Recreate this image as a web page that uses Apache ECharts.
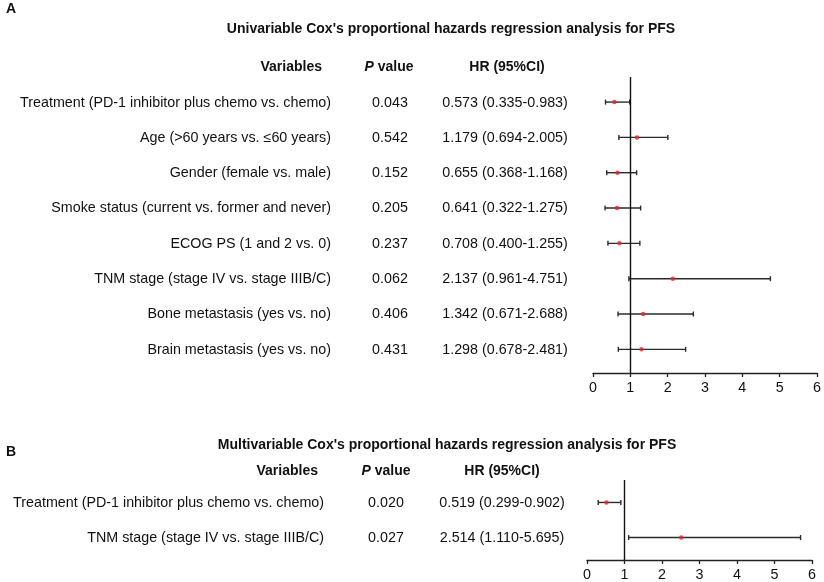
<!DOCTYPE html>
<html>

<head>
	<meta charset="utf-8">
	<title></title>
	<style type="text/css">
	html, body {
		margin: 0;
		padding: 0;
		background: #fff;
	}

	#main {
		width: 824px;
		height: 582px;
	}
	</style>
</head>

<body>
	<div id="main"></div>
	<script src="https://cdn.jsdelivr.net/npm/echarts@6/dist/echarts.min.js"></script>
	<script>
	// panel A - univariable
	var varsA = [
		'Treatment (PD-1 inhibitor plus chemo vs. chemo)',
		'Age (>60 years vs. ≤60 years)',
		'Gender (female vs. male)',
		'Smoke status (current vs. former and never)',
		'ECOG PS (1 and 2 vs. 0)',
		'TNM stage (stage IV vs. stage IIIB/C)',
		'Bone metastasis (yes vs. no)',
		'Brain metastasis (yes vs. no)'
	];
	var pA = ['0.043', '0.542', '0.152', '0.205', '0.237', '0.062', '0.406', '0.431'];
	var hrA = [0.573, 1.179, 0.655, 0.641, 0.708, 2.137, 1.342, 1.298];
	var loA = [0.335, 0.694, 0.368, 0.322, 0.400, 0.961, 0.671, 0.678];
	var hiA = [0.983, 2.005, 1.168, 1.275, 1.255, 4.751, 2.688, 2.481];

	// panel B - multivariable
	var varsB = [
		'Treatment (PD-1 inhibitor plus chemo vs. chemo)',
		'TNM stage (stage IV vs. stage IIIB/C)'
	];
	var pB = ['0.020', '0.027'];
	var hrB = [0.519, 2.514];
	var loB = [0.299, 1.110];
	var hiB = [0.902, 5.695];

	var xTicks = [0, 1, 2, 3, 4, 5, 6];

	var font = '"Liberation Sans", Arial, sans-serif';
	var fs = 14.3; // body text
	var hs = 14; // bold headers

	function hrText(h, l, u) {
		return h.toFixed(3) + ' (' + l.toFixed(3) + '-' + u.toFixed(3) + ')';
	}

	// error bar with caps
	function barItem(params, api) {
		var lo = api.coord([api.value(0), api.value(2)]);
		var hi = api.coord([api.value(1), api.value(2)]);
		var c = 2.5;
		var st = { stroke: '#2b2b2b', lineWidth: 1.4 };
		return {
			type: 'group',
			children: [
				{ type: 'line', shape: { x1: lo[0], y1: lo[1], x2: hi[0], y2: hi[1] }, style: st },
				{ type: 'line', shape: { x1: lo[0], y1: lo[1] - c, x2: lo[0], y2: lo[1] + c }, style: st },
				{ type: 'line', shape: { x1: hi[0], y1: hi[1] - c, x2: hi[0], y2: hi[1] + c }, style: st }
			]
		};
	}

	// table column drawn at fixed x, row y from the axis
	function textColumn(gi, texts, x, align) {
		return {
			type: 'custom',
			xAxisIndex: gi,
			yAxisIndex: gi,
			silent: true,
			clip: false,
			data: texts.map(function(t, i) { return [0, i]; }),
			renderItem: function(params, api) {
				var p = api.coord([0, api.value(1)]);
				return {
					type: 'text',
					x: x,
					y: p[1] + 0.5,
					style: {
						text: texts[params.dataIndex],
						align: align,
						verticalAlign: 'middle',
						fill: '#111',
						font: fs + 'px ' + font
					}
				};
			}
		};
	}

	function xAxisOpt(gi) {
		return {
			gridIndex: gi,
			type: 'value',
			min: xTicks[0],
			max: xTicks[xTicks.length - 1],
			interval: 1,
			splitLine: { show: false },
			axisLine: { show: true, onZero: false, lineStyle: { color: '#222', width: 1.3 } },
			axisTick: { show: true, length: 4, lineStyle: { color: '#222', width: 1.3 } },
			axisLabel: { color: '#111', fontSize: fs, fontFamily: font, margin: 8 }
		};
	}

	function yAxisOpt(gi, min, max) {
		return {
			gridIndex: gi,
			type: 'value',
			inverse: true,
			min: min,
			max: max,
			show: false
		};
	}

	function header(text, x, y, align) {
		return {
			type: 'text',
			x: x,
			y: y,
			style: {
				text: text,
				align: align,
				verticalAlign: 'middle',
				fill: '#111',
				font: 'bold ' + hs + 'px ' + font,
				rich: {
					i: { fontStyle: 'italic', fontWeight: 'bold', fontSize: hs, fontFamily: font, fill: '#111' },
					b: { fontWeight: 'bold', fontSize: hs, fontFamily: font, fill: '#111' }
				}
			}
		};
	}

	function panel(gi, vars, p, hr, lo, hi, cols) {
		return [
			{
				type: 'custom',
				xAxisIndex: gi,
				yAxisIndex: gi,
				silent: true,
				data: lo.map(function(v, i) { return [v, hi[i], i]; }),
				renderItem: barItem,
				z: 2
			},
			{
				type: 'scatter',
				xAxisIndex: gi,
				yAxisIndex: gi,
				silent: true,
				symbolSize: 4.5,
				itemStyle: { color: '#e3252b' },
				data: hr.map(function(v, i) { return [v, i]; }),
				z: 3,
				markLine: {
					silent: true,
					symbol: 'none',
					label: { show: false },
					lineStyle: { color: '#111', width: 1.4, type: 'solid' },
					data: [{ xAxis: 1 }]
				}
			},
			textColumn(gi, vars, cols[0], 'right'),
			textColumn(gi, p, cols[1], 'center'),
			textColumn(gi, hr.map(function(v, i) { return hrText(v, lo[i], hi[i]); }), cols[2], 'center')
		];
	}

	var myChart = echarts.init(document.getElementById('main'));
	var option = {
		backgroundColor: '#fff',
		animation: false,
		grid: [
			{ left: 593, right: 4, top: 77, bottom: 209 },
			{ left: 587, right: 12, top: 480, bottom: 20 }
		],
		xAxis: [xAxisOpt(0), xAxisOpt(1)],
		yAxis: [yAxisOpt(0, -0.71, 7.67), yAxisOpt(1, -0.64, 1.64)],
		graphic: [
			header('A', 6, 9, 'left'),
			header('Univariable Cox\'s proportional hazards regression analysis for PFS', 451, 29, 'center'),
			header('Variables', 322, 67, 'right'),
			header('{i|P}{b| value}', 389, 67, 'center'),
			header('HR (95%CI)', 507, 67, 'center'),
			header('B', 6, 452, 'left'),
			header('Multivariable Cox\'s proportional hazards regression analysis for PFS', 447, 445, 'center'),
			header('Variables', 318, 471, 'right'),
			header('{i|P}{b| value}', 386, 471, 'center'),
			header('HR (95%CI)', 502, 471, 'center')
		],
		series: panel(0, varsA, pA, hrA, loA, hiA, [331, 390, 505])
			.concat(panel(1, varsB, pB, hrB, loB, hiB, [324, 386, 502]))
	};
	myChart.setOption(option, true);
	</script>
</body>

</html>
